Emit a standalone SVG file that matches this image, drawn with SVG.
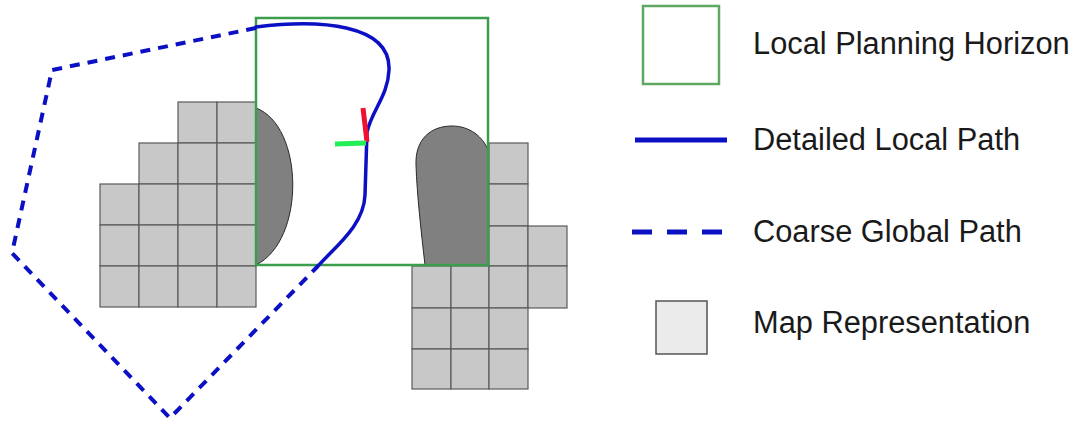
<svg xmlns="http://www.w3.org/2000/svg" width="1079" height="427" viewBox="0 0 1079 427">
<style>
.cell{fill:#c8c8c8;stroke:#5a5a5a;stroke-width:1.2}
.obs{fill:#808080;stroke:#2a2a2a;stroke-width:1}
.horizon{fill:none;stroke:#3c9e4c;stroke-width:2.5}
.local{fill:none;stroke:#0c10c4;stroke-width:3.5;stroke-linecap:round}
.global{fill:none;stroke:#0c10c4;stroke-width:4;stroke-dasharray:10 8}
.lbl{font-family:"Liberation Sans",Arial,sans-serif;font-size:30.8px;fill:#1a1a1a}
</style>
<rect width="1079" height="427" fill="#ffffff"/>
<g id="map-left">
<rect class="cell" x="178" y="102" width="39" height="41"/>
<rect class="cell" x="217" y="102" width="39" height="41"/>
<rect class="cell" x="139" y="143" width="39" height="41"/>
<rect class="cell" x="178" y="143" width="39" height="41"/>
<rect class="cell" x="217" y="143" width="39" height="41"/>
<rect class="cell" x="100" y="184" width="39" height="41"/>
<rect class="cell" x="139" y="184" width="39" height="41"/>
<rect class="cell" x="178" y="184" width="39" height="41"/>
<rect class="cell" x="217" y="184" width="39" height="41"/>
<rect class="cell" x="100" y="225" width="39" height="41"/>
<rect class="cell" x="139" y="225" width="39" height="41"/>
<rect class="cell" x="178" y="225" width="39" height="41"/>
<rect class="cell" x="217" y="225" width="39" height="41"/>
<rect class="cell" x="100" y="266" width="39" height="41"/>
<rect class="cell" x="139" y="266" width="39" height="41"/>
<rect class="cell" x="178" y="266" width="39" height="41"/>
<rect class="cell" x="217" y="266" width="39" height="41"/>
</g>
<g id="map-right">
<rect class="cell" x="489" y="143" width="39" height="41"/>
<rect class="cell" x="489" y="184" width="39" height="42"/>
<rect class="cell" x="489" y="226" width="39" height="40"/>
<rect class="cell" x="528" y="226" width="39" height="40"/>
<rect class="cell" x="412" y="266" width="39" height="42"/>
<rect class="cell" x="451" y="266" width="38" height="42"/>
<rect class="cell" x="489" y="266" width="39" height="42"/>
<rect class="cell" x="528" y="266" width="39" height="42"/>
<rect class="cell" x="412" y="308" width="39" height="41"/>
<rect class="cell" x="451" y="308" width="38" height="41"/>
<rect class="cell" x="489" y="308" width="39" height="41"/>
<rect class="cell" x="412" y="349" width="39" height="40"/>
<rect class="cell" x="451" y="349" width="38" height="40"/>
<rect class="cell" x="489" y="349" width="39" height="40"/>
</g>
<g id="obstacle-left">
<path class="obs" d="M256,108 C304,126 306,240 256,265 Z"/>
</g>
<g id="obstacle-right">
<path class="obs" d="M425,265 C421,230 417,195 416,165 C415,140 430,126 452,126 C470,126 483,137 488,150 L488,265 Z"/>
</g>
<g id="local-planning-horizon">
<rect class="horizon" x="256" y="18" width="232" height="247"/>
</g>
<g id="connectors">
<path id="coarse-global-path" class="global" d="M256,28 L52,70 L12,253 L170,418 L318,266"/>
<path id="detailed-local-path" class="local" d="M256,27 C320,19 391,24 389,70 C388,96 372,110 367,132 L365,195 C364,225 336,246 318,266"/>
</g>
<g id="robot">
<line x1="363" y1="108" x2="367" y2="142" stroke="#ee1133" stroke-width="5"/>
<line x1="335" y1="144" x2="366" y2="143" stroke="#22ee55" stroke-width="5"/>
</g>
<g id="legend-horizon">
<rect x="643" y="6" width="76" height="78" fill="none" stroke="#5fa862" stroke-width="2.5"/>
<text class="lbl" x="753" y="54">Local Planning Horizon</text>
</g>
<g id="legend-local">
<line x1="635" y1="140" x2="727" y2="140" stroke="#0c10c4" stroke-width="5"/>
<text class="lbl" x="753" y="150">Detailed Local Path</text>
</g>
<g id="legend-global">
<line x1="632" y1="232" x2="723" y2="232" stroke="#0c10c4" stroke-width="5" stroke-dasharray="20 15"/>
<text class="lbl" x="753" y="242">Coarse Global Path</text>
</g>
<g id="legend-map">
<rect x="656" y="301" width="51" height="53" fill="#ebebeb" stroke="#555555" stroke-width="1.5"/>
<text class="lbl" x="753" y="333">Map Representation</text>
</g>
</svg>
